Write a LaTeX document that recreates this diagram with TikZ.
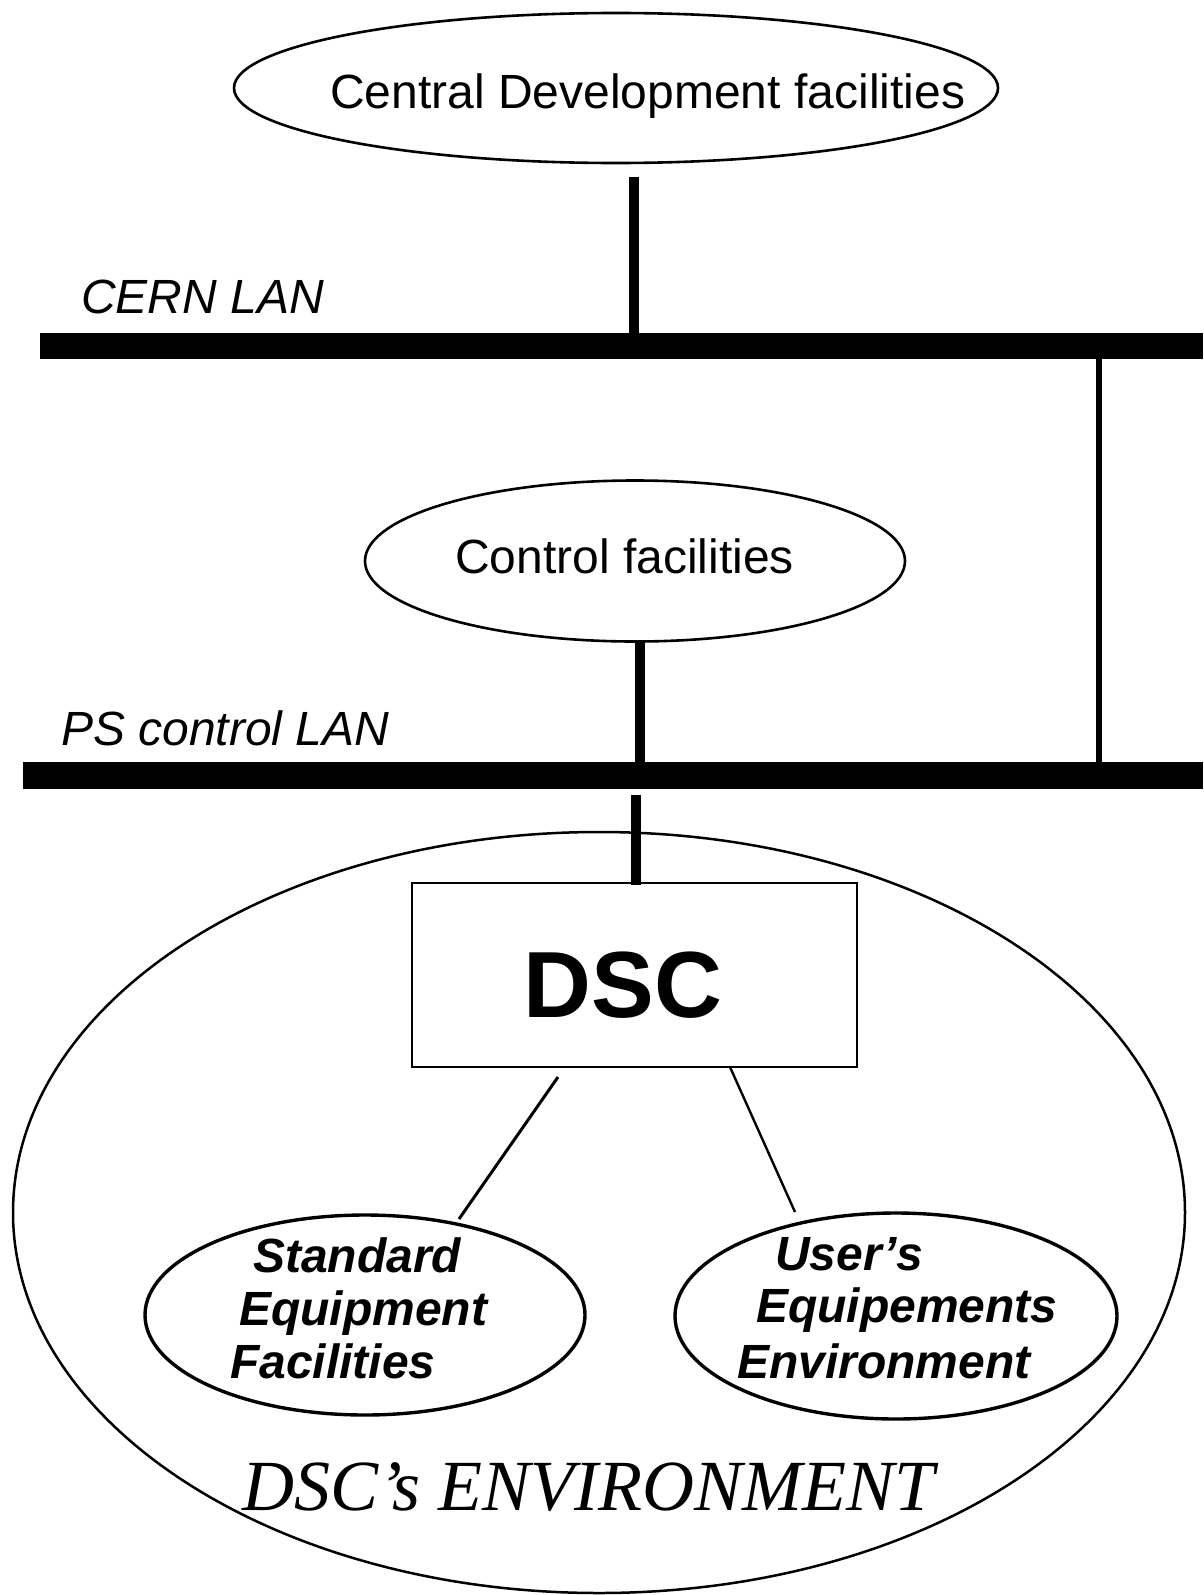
\documentclass[tikz,border=0pt]{standalone}
\usepackage{fontspec}
\setmainfont{Liberation Sans}
\newfontfamily\serifit{Liberation Serif}
\usetikzlibrary{shapes.geometric}
\begin{document}
\begin{tikzpicture}[x=1pt,y=-1pt,
  oval/.style={draw, ellipse, inner sep=0pt},
  bar/.style={fill=black, draw=none, inner sep=0pt, rectangle},
  trunk/.style={line width=10pt},
  lbl/.style={inner sep=0pt, anchor=base west, font=\fontsize{48}{52}\selectfont},
  lan/.style={inner sep=0pt, anchor=base west, font=\fontsize{48}{52}\selectfont\itshape},
  eqtext/.style={inner sep=0pt, anchor=base west, font=\fontsize{48}{52}\selectfont\bfseries\itshape}
]
\useasboundingbox (0,0) rectangle (1203,1595);

% top ellipse
\node[oval, line width=2.6pt, minimum width=764pt, minimum height=150pt] (cdf) at (616,88) {};
\node[lbl] (cdft) at (330,108) {Central Development facilities};

% CERN LAN
\node[bar, minimum width=1163pt, minimum height=26pt, anchor=north west] (cern) at (40,333) {};
\node[lan] (cernt) at (81,313) {CERN LAN};
\coordinate (v1) at (634,177);
\draw[trunk] (v1) -- (v1 |- cern.north);

% Control facilities
\node[oval, line width=2.6pt, minimum width=540pt, minimum height=161pt] (ctl) at (635,561) {};
\node[lbl] (ctlt) at (455,573) {Control facilities};

% PS control LAN
\node[bar, minimum width=1180pt, minimum height=27pt, anchor=north west] (ps) at (23,762) {};
\node[lan] (pst) at (61,745) {PS control LAN};
\coordinate (v2) at (640,640);
\draw[trunk] (v2) -- (v2 |- ps.north);

% link CERN LAN - PS LAN
\coordinate (v4) at (1099,359);
\draw[line width=6pt] (v4) -- (v4 |- ps.north);

% DSC environment
\node[oval, line width=2.5pt, minimum width=1172pt, minimum height=761pt] (env) at (599,1212.5) {};
\node[draw, line width=2.7pt, inner sep=0pt, minimum width=445pt, minimum height=184pt] (dsc) at (634.5,975) {};
\node[inner sep=0pt, anchor=base] (dsct) at (623,1017) {\fontsize{94}{94}\selectfont\bfseries DSC};
\coordinate (v3) at (636,795);
\draw[trunk] (v3) -- ([yshift=-3pt]v3 |- dsc.north);

% sub ellipses
\node[oval, line width=3.4pt, minimum width=440pt, minimum height=200pt] (std) at (365,1315) {};
\node[oval, line width=3.4pt, minimum width=442pt, minimum height=206pt] (usr) at (896,1316) {};

\node[eqtext] (s1) at (253,1272) {Standard};
\node[eqtext] (s2) at (239,1325) {Equipment};
\node[eqtext] (s3) at (230,1378) {Facilities};
\node[eqtext] (u1) at (775,1270) {User’s};
\node[eqtext] (u2) at (756,1322) {Equipements};
\node[eqtext] (u3) at (737,1378) {Environment};

\coordinate (a1) at (558,1077);
\coordinate (a2) at (459,1219);
\draw[line width=3pt] (a1) -- (a2);
\coordinate (b1) at (730,1067);
\coordinate (b2) at (795,1212);
\draw[line width=2.4pt] (b1) -- (b2);

\node[inner sep=0pt, anchor=base west] (envt) at (242,1510) {\serifit\itshape\fontsize{72}{72}\selectfont DSC’s ENVIRONMENT};
\end{tikzpicture}
\end{document}
